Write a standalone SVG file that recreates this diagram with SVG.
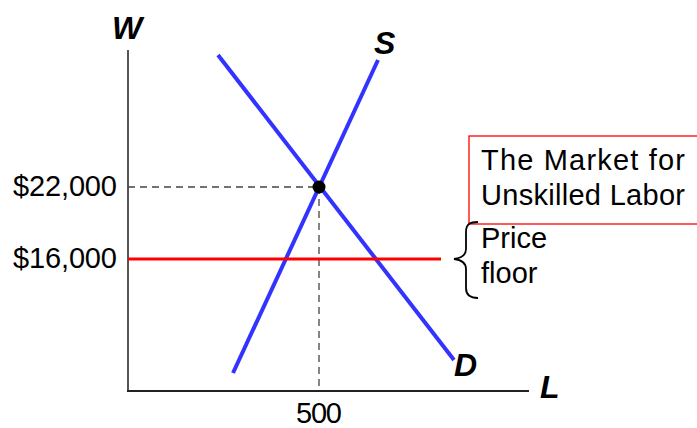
<svg xmlns="http://www.w3.org/2000/svg" width="697" height="428" viewBox="0 0 697 428">
<style>
.t{font-family:"Liberation Sans",Arial,sans-serif;font-size:29px;fill:#000}
.b{font-family:"Liberation Sans",Arial,sans-serif;font-size:32px;font-weight:bold;font-style:italic;fill:#000}
.axis{stroke:#555;stroke-width:2;fill:none}
.dash{stroke:#444;stroke-width:1.3;stroke-dasharray:7,5;fill:none}
.curve{stroke:#3333ff;stroke-width:4;fill:none}
</style>
<rect width="697" height="428" fill="#fff"/>
<g id="axes">
<line class="axis" x1="128" y1="50" x2="128" y2="392"/>
<line class="axis" x1="127" y1="391" x2="529" y2="391" style="stroke:#222"/>
<text class="b" x="112" y="39">W</text>
<text class="b" x="540" y="398">L</text>
</g>
<g id="guides">
<line class="dash" x1="128" y1="187" x2="319" y2="187"/>
<line class="dash" x1="319" y1="187" x2="319" y2="391"/>
</g>
<g id="connectors">
<line id="supply" class="curve" x1="233" y1="373" x2="378" y2="60"/>
<line id="demand" class="curve" x1="218" y1="55" x2="454" y2="360"/>
<line id="floor" x1="128" y1="259" x2="441" y2="259" stroke="#ff0000" stroke-width="3"/>
</g>
<g id="labels">
<text class="b" x="374" y="54">S</text>
<text class="b" x="454" y="376">D</text>
<text class="t" x="117" y="196" text-anchor="end" textLength="104">$22,000</text>
<text class="t" x="117" y="268" text-anchor="end" textLength="104">$16,000</text>
<text class="t" x="319" y="423" text-anchor="middle" textLength="46">500</text>
</g>
<g id="equilibrium">
<circle cx="319" cy="187" r="6.5" fill="#000"/>
</g>
<g id="title">
<rect x="469" y="136" width="240" height="88" fill="#fff" stroke="#ff0000" stroke-width="1.3"/>
<text class="t" x="481" y="170" textLength="204">The Market for</text>
<text class="t" x="481" y="205" textLength="204">Unskilled Labor</text>
</g>
<g id="brace">
<path d="M478,222 C470,222 466,224 466,232 L466,249 C466,255 462,258 454,259 C462,260 466,263 466,269 L466,288 C466,295 470,298 478,298" fill="none" stroke="#000" stroke-width="1.8"/>
<text class="t" x="481" y="248">Price</text>
<text class="t" x="481" y="283">floor</text>
</g>
</svg>
